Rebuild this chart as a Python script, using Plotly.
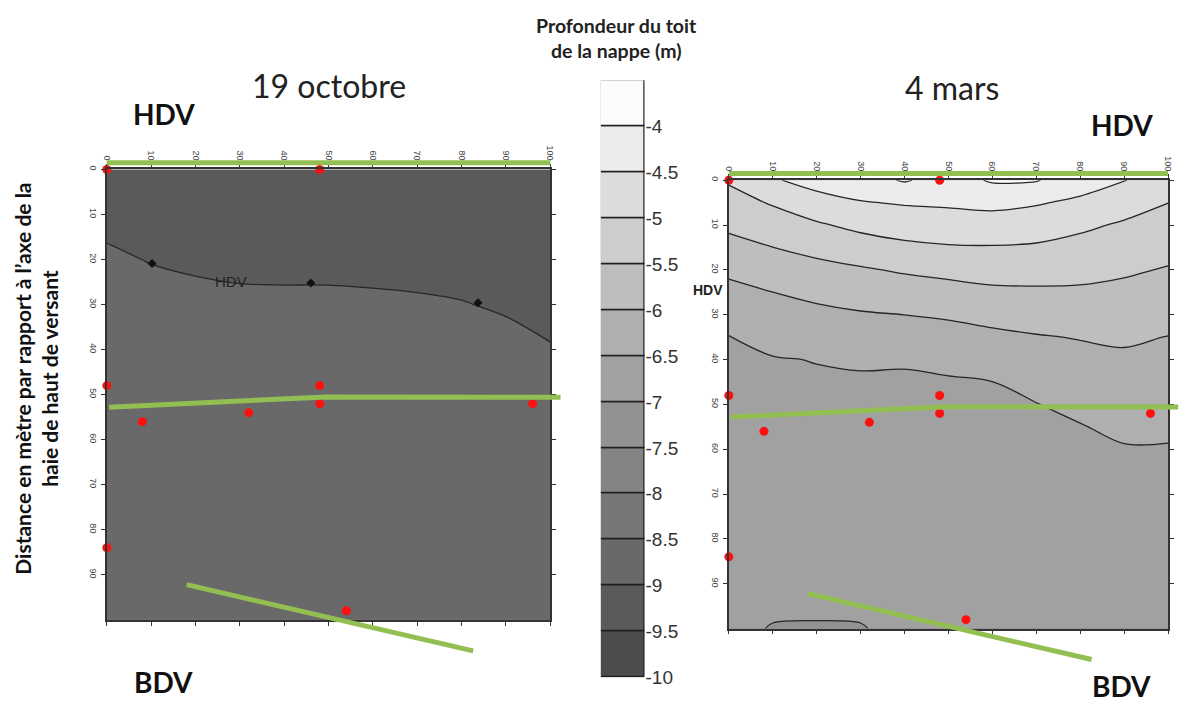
import plotly.graph_objects as go

# ---------------- data ----------------
X_GRID = [0, 10, 20, 30, 40, 50, 60, 70, 80, 90, 100]

# 19 octobre : water-table depth (m), rows = distance from hedge (m)
Y_GRID_OCT = [0, 10, 20, 30, 40, 50, 60, 70, 80, 90, 100]
Z_OCT = [
    [-9.25, -9.25, -9.25, -9.25, -9.25, -9.25, -9.25, -9.25, -9.28, -9.30, -9.32],
    [-9.19, -9.15, -9.20, -9.22, -9.22, -9.22, -9.23, -9.25, -9.28, -9.30, -9.32],
    [-8.89, -9.03, -9.11, -9.16, -9.17, -9.17, -9.19, -9.22, -9.27, -9.25, -9.30],
    [-8.80, -8.73, -8.81, -8.86, -8.87, -8.87, -8.89, -8.92, -8.97, -9.08, -9.25],
    [-8.78, -8.76, -8.78, -8.80, -8.80, -8.80, -8.80, -8.80, -8.80, -8.78, -8.95],
    [-8.75, -8.75, -8.75, -8.75, -8.75, -8.75, -8.75, -8.75, -8.75, -8.75, -8.75],
    [-8.75, -8.75, -8.75, -8.75, -8.75, -8.75, -8.75, -8.75, -8.75, -8.75, -8.75],
    [-8.75, -8.75, -8.75, -8.75, -8.75, -8.75, -8.75, -8.75, -8.75, -8.75, -8.75],
    [-8.75, -8.75, -8.75, -8.75, -8.75, -8.75, -8.75, -8.75, -8.75, -8.75, -8.75],
    [-8.75, -8.75, -8.75, -8.75, -8.75, -8.75, -8.75, -8.75, -8.75, -8.75, -8.75],
    [-8.75, -8.75, -8.75, -8.75, -8.75, -8.75, -8.75, -8.75, -8.75, -8.75, -8.75],
]

# 4 mars
Y_GRID_MAR = [0, 5, 10, 15, 20, 25, 30, 35, 40, 45, 50, 55, 60, 70, 80, 90, 100]
Z_MAR = [
    [-4.95, -4.55, -4.32, -4.18, -3.96, -4.20, -3.95, -3.97, -4.28, -4.48, -4.82],
    [-5.18, -4.96, -4.69, -4.53, -4.46, -4.43, -4.38, -4.46, -4.59, -4.79, -4.996],
    [-5.41, -5.23, -5.06, -4.88, -4.78, -4.73, -4.71, -4.76, -4.91, -5.06, -5.18],
    [-5.65, -5.505, -5.37, -5.23, -5.10, -5.04, -5.03, -5.06, -5.15, -5.25, -5.36],
    [-5.90, -5.75, -5.64, -5.55, -5.45, -5.37, -5.31, -5.32, -5.36, -5.44, -5.53],
    [-6.14, -6.002, -5.89, -5.80, -5.73, -5.67, -5.59, -5.57, -5.57, -5.61, -5.69],
    [-6.36, -6.19, -6.11, -6.04, -5.999, -5.94, -5.86, -5.80, -5.77, -5.77, -5.85],
    [-6.51, -6.39, -6.30, -6.25, -6.23, -6.19, -6.10, -6.03, -5.98, -5.94, -6.01],
    [-6.55, -6.52, -6.49, -6.46, -6.47, -6.42, -6.31, -6.20, -6.12, -6.07, -6.11],
    [-6.59, -6.56, -6.54, -6.54, -6.54, -6.53, -6.504, -6.37, -6.26, -6.19, -6.22],
    [-6.63, -6.61, -6.59, -6.59, -6.59, -6.58, -6.56, -6.51, -6.40, -6.30, -6.32],
    [-6.67, -6.65, -6.64, -6.64, -6.64, -6.63, -6.61, -6.58, -6.52, -6.41, -6.42],
    [-6.70, -6.69, -6.69, -6.68, -6.68, -6.68, -6.67, -6.65, -6.61, -6.53, -6.53],
    [-6.78, -6.78, -6.78, -6.78, -6.78, -6.78, -6.78, -6.78, -6.78, -6.78, -6.78],
    [-6.82, -6.82, -6.82, -6.82, -6.82, -6.82, -6.82, -6.82, -6.82, -6.82, -6.82],
    [-6.86, -6.86, -6.86, -6.86, -6.86, -6.86, -6.86, -6.86, -6.86, -6.86, -6.86],
    [-6.90, -7.02, -7.03, -7.02, -6.90, -6.90, -6.90, -6.90, -6.90, -6.90, -6.90],
]

# colour classes (legend bar): lower bound of each 0.5 m class
CLASS_BASE = [-10, -9.5, -9, -8.5, -8, -7.5, -7, -6.5, -6, -5.5, -5, -4.5, -4]
CLASS_SIZE = [0.5] * 13
GRAYS = ["#4c4c4c", "#5a5a5a", "#696969", "#767676", "#848484", "#929292",
         "#a1a1a1", "#afafaf", "#bebebe", "#cdcdcd", "#dcdcdc", "#ececec", "#fcfcfc"]
CB_TICKS = [-10, -9.5, -9, -8.5, -8, -7.5, -7, -6.5, -6, -5.5, -5, -4.5, -4]
CB_LABELS = ["-10", "-9.5", "-9", "-8.5", "-8", "-7.5", "-7", "-6.5", "-6",
             "-5.5", "-5", "-4.5", "-4"]
CB_RANGE = [-10, -3.5]
LEVEL_START, LEVEL_END, LEVEL_STEP = -9.5, -4.0, 0.5

X_TICKS = [0, 10, 20, 30, 40, 50, 60, 70, 80, 90, 100]
Y_TICKS = [0, 10, 20, 30, 40, 50, 60, 70, 80, 90]

# piezometers (same positions on both dates)
WELL_X = [0, 48, 0, 48, 48, 8, 32, 96, 0, 54]
WELL_Y = [0, 0, 48, 48, 52, 56, 54, 52, 84, 98]

# hedges
HEDGE_TOP_X = [0, 100]
HEDGE_TOP_Y = [-1.5, -1.5]
HEDGE_MID_X = [0.5, 49.5, 102.3]
HEDGE_MID_Y = [52.8, 50.5, 50.6]
HEDGE_BOT_X = [18, 82.6]
HEDGE_BOT_Y = [92.2, 106.9]

# contour-label marks on the October -9 m isoline
MARK_X = [10.2, 46, 83.7]
MARK_Y = [20.9, 25.2, 29.6]

X_RANGE = [0, 100]
Y_RANGE = [100, 0]

# ---------------- figure ----------------
W, H = 1179, 715
colorscale = [[i / (len(GRAYS) - 1), c] for i, c in enumerate(GRAYS)]
contours = dict(start=LEVEL_START, end=LEVEL_END, size=LEVEL_STEP,
                coloring="fill", showlines=True)

fig = go.Figure()
for z, yg, xa, ya in ((Z_OCT, Y_GRID_OCT, "x", "y"), (Z_MAR, Y_GRID_MAR, "x2", "y2")):
    fig.add_trace(go.Contour(
        x=X_GRID, y=yg, z=z, xaxis=xa, yaxis=ya,
        autocontour=False, contours=contours, colorscale=colorscale,
        line=dict(color="#262626", width=1.3, smoothing=1),
        showscale=False, hoverinfo="skip",
    ))

for xa, ya in (("x", "y"), ("x2", "y2")):
    fig.add_trace(go.Scatter(
        x=WELL_X, y=WELL_Y, xaxis=xa, yaxis=ya, mode="markers",
        marker=dict(color="#ff1010", size=9), cliponaxis=False,
        showlegend=False, hoverinfo="skip"))

fig.add_trace(go.Scatter(
    x=MARK_X, y=MARK_Y, xaxis="x", yaxis="y", mode="markers",
    marker=dict(color="#111", size=7, symbol="diamond"),
    showlegend=False, hoverinfo="skip"))

# legend bar of depth classes
fig.add_trace(go.Bar(
    x=[0] * len(CLASS_BASE), y=CLASS_SIZE, base=CLASS_BASE, width=1,
    xaxis="x3", yaxis="y3",
    marker=dict(color=GRAYS, line=dict(color="#1e1e1e", width=1.6)),
    showlegend=False, hoverinfo="skip"))


def dom_path(xs, ys):
    pts = []
    for x, y in zip(xs, ys):
        xd = (x - X_RANGE[0]) / (X_RANGE[1] - X_RANGE[0])
        yd = (y - Y_RANGE[0]) / (Y_RANGE[1] - Y_RANGE[0])
        pts.append(f"{xd:.4f},{yd:.4f}")
    return "M " + " L ".join(pts)


shapes = []
for ax in ("", "2"):
    for xs, ys in ((HEDGE_TOP_X, HEDGE_TOP_Y), (HEDGE_MID_X, HEDGE_MID_Y),
                   (HEDGE_BOT_X, HEDGE_BOT_Y)):
        shapes.append(dict(type="path", path=dom_path(xs, ys),
                           xref=f"x{ax} domain", yref=f"y{ax} domain",
                           line=dict(color="#93bf52", width=5), layer="above"))

axis_common = dict(
    showline=True, linecolor="#333", linewidth=1.5, mirror="ticks",
    ticks="outside", ticklen=4, tickcolor="#333", showgrid=False, zeroline=False,
    tickangle=90, tickfont=dict(family="Liberation Sans", size=9, color="#444"),
)

fig.update_layout(
    autosize=True,
    margin=dict(l=0, r=0, t=0, b=0),
    paper_bgcolor="white", plot_bgcolor="white",
    showlegend=False, bargap=0,
    xaxis=dict(domain=[102.7 / W, 550 / W], range=X_RANGE, side="top",
               tickmode="array", tickvals=X_TICKS, anchor="y", **axis_common),
    yaxis=dict(domain=[1 - 629 / H, 1 - 169 / H], range=Y_RANGE,
               tickmode="array", tickvals=Y_TICKS, anchor="x", **axis_common),
    xaxis2=dict(domain=[730 / W, 1173 / W], range=X_RANGE, side="top",
                tickmode="array", tickvals=X_TICKS, anchor="y2", **axis_common),
    yaxis2=dict(domain=[1 - 638 / H, 1 - 180 / H], range=Y_RANGE,
                tickmode="array", tickvals=Y_TICKS, anchor="x2", **axis_common),
    xaxis3=dict(domain=[601 / W, 645 / W], range=[-0.5, 0.5], visible=False,
                anchor="y3", fixedrange=True),
    yaxis3=dict(domain=[1 - 688 / H, 1 - 78 / H], range=CB_RANGE, side="right",
                anchor="x3", tickmode="array", tickvals=CB_TICKS, ticktext=CB_LABELS,
                ticks="", showline=False, showgrid=False, zeroline=False,
                tickfont=dict(family="Liberation Sans", size=19, color="#333")),
    shapes=shapes,
)

title_font = dict(family="Lato", size=32, color="#222")
bold_font = dict(family="Lato", size=28, color="#111")


def ann(text, px, py, font, **kw):
    fig.add_annotation(text=text, x=px / W, y=1 - py / H, xref="paper",
                       yref="paper", showarrow=False, font=font,
                       xanchor=kw.pop("xanchor", "center"),
                       yanchor=kw.pop("yanchor", "middle"), **kw)


ann("19 octobre", 327, 83, title_font)
ann("4 mars", 955, 85, title_font)
ann("<b>HDV</b>", 160, 112, bold_font)
ann("<b>HDV</b>", 1127, 124, bold_font)
ann("<b>BDV</b>", 160, 693, bold_font)
ann("<b>BDV</b>", 1126, 697, bold_font)
ann("<b>Profondeur du toit</b>", 617, 22, dict(family="Lato", size=19.5, color="#222"))
ann("<b>de la nappe (m)</b>", 617, 47, dict(family="Lato", size=19.5, color="#222"))
ann("<b>Distance en mètre par rapport à l’axe de la<br>haie de haut de versant</b>",
    31, 383, dict(family="Lato", size=21, color="#111"), textangle=-90)
ann("HDV", 228, 283, dict(family="Liberation Sans", size=15, color="#222"))
ann("<b>HDV</b>", 709, 292, dict(family="Liberation Sans", size=14, color="#222"))

fig.write_html(
    "out.html",
    config={"displayModeBar": False, "responsive": True},
    default_width="100vw",
    default_height="100vh",
    post_script=(
        "document.documentElement.style.margin='0';"
        "document.documentElement.style.overflow='hidden';"
        "document.body.style.margin='0';"
        "document.body.style.overflow='hidden';"
        "var d=document.getElementById('{plot_id}');"
        "d.style.position='fixed';d.style.left='0px';d.style.top='0px';"
        "d.style.width='100vw';d.style.height='100vh';"
        "Plotly.Plots.resize(d);"
    ),
)
